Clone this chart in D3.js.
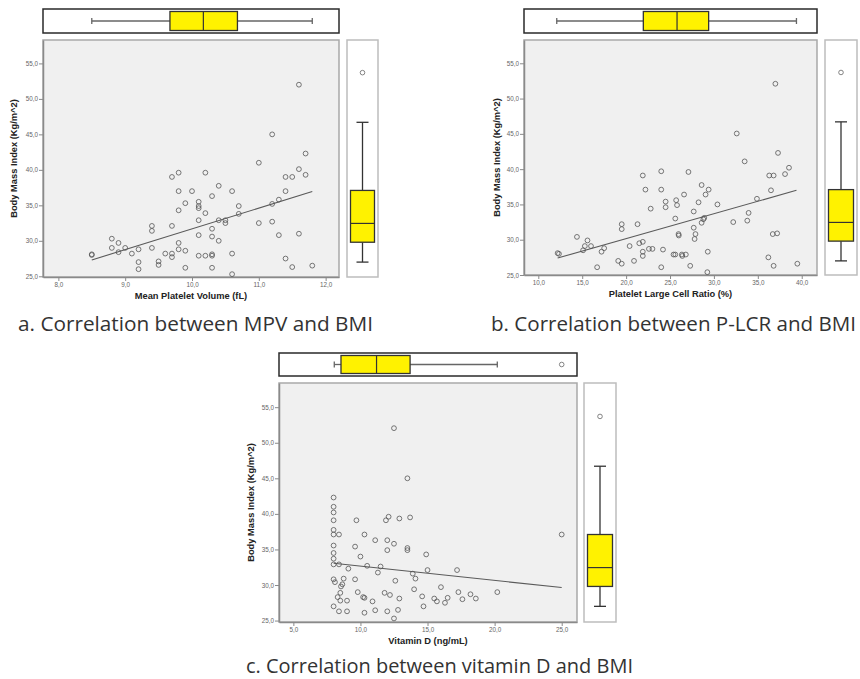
<!DOCTYPE html>
<html>
<head>
<meta charset="utf-8">
<script src="https://cdn.jsdelivr.net/npm/d3@7"></script>
<style>
body{margin:0;background:#fff;}
</style>
</head>
<body>
<svg id="fig" width="860" height="679"></svg>
<script>
////  data
var bmiTicks = [25, 30, 35, 40, 45, 50, 55];
var mpvTicks = [8, 9, 10, 11, 12];
var plcrTicks = [10, 15, 20, 25, 30, 35, 40];
var vitdTicks = [5, 10, 15, 20, 25];

// [x, BMI]
var mpvBmi = [
	[8.5,28.0],[8.5,28.1],[8.8,30.3],[8.8,29.0],[8.9,29.7],[8.9,28.4],[9.0,29.0],[9.1,28.2],[9.2,28.8],[9.2,27.0],[9.2,26.0],
	[9.4,32.1],[9.4,31.4],[9.4,29.0],[9.5,27.1],[9.5,26.6],[9.6,28.2],
	[9.7,32.1],[9.7,28.2],[9.7,27.7],[9.7,39.0],[9.8,39.6],[9.8,37.0],[9.8,34.3],[9.8,29.7],[9.8,28.8],
	[9.9,35.3],[9.9,28.6],[9.9,26.2],[10.0,37.0],
	[10.1,35.5],[10.1,34.9],[10.1,34.6],[10.1,32.9],[10.1,30.8],[10.1,27.9],
	[10.2,39.6],[10.2,33.9],[10.2,27.9],
	[10.3,36.3],[10.3,31.7],[10.3,30.6],[10.3,27.9],[10.3,28.1],[10.3,26.2],
	[10.4,37.75],[10.4,32.9],[10.4,30.0],[10.5,32.9],[10.5,32.5],
	[10.6,37.0],[10.6,28.2],[10.6,25.3],[10.7,34.9],[10.7,33.8],
	[11.0,41.0],[11.0,32.5],[11.2,45.0],[11.2,35.2],[11.2,32.7],[11.3,35.8],[11.3,30.8],
	[11.4,39.0],[11.4,37.0],[11.4,27.5],[11.5,39.0],[11.5,26.3],
	[11.6,52.0],[11.6,40.1],[11.6,31.0],[11.7,42.3],[11.7,39.3],[11.8,26.5]
];
var plcrBmi = [
	[12.2,28.1],[12.35,28.0],[14.4,30.4],[15.1,28.5],[15.3,29.1],[15.6,29.9],[16.0,29.1],[16.7,26.1],[17.2,28.3],[17.5,28.8],
	[19.1,27.0],[19.5,32.2],[19.5,31.5],[19.5,26.6],[20.4,29.1],[20.9,27.0],[21.3,32.2],[21.5,29.5],[21.9,39.1],[21.9,29.7],
	[21.9,28.3],[21.9,27.7],[22.2,37.1],[22.6,28.7],[22.8,34.4],[23.0,28.7],
	[24.0,39.7],[24.0,37.1],[24.0,26.1],[24.2,28.6],[24.5,35.4],[24.5,34.6],[25.4,27.9],[25.6,27.9],[25.6,33.0],[25.7,35.6],
	[25.8,34.9],[25.97,30.8],[26.0,30.6],[26.35,27.9],[26.4,27.7],[26.6,36.4],[26.8,27.9],[27.1,39.6],[27.3,26.3],[27.7,34.0],
	[27.7,31.7],[27.8,30.1],[27.9,30.8],[28.25,35.3],[28.6,37.75],[28.6,32.4],[28.8,32.9],[28.9,33.1],[29.05,36.4],[29.4,37.1],
	[29.3,28.3],[29.25,25.4],
	[30.4,35.0],[32.2,32.5],[32.6,45.05],[33.5,41.1],[33.8,32.7],[33.95,33.8],[34.9,35.8],[36.2,27.5],[36.3,39.1],[36.5,37.0],
	[36.8,39.1],[36.7,30.8],[36.8,26.3],[37.0,52.1],[37.2,30.9],[37.3,42.3],[38.1,39.3],[38.55,40.2],[39.5,26.6]
];
var vitdBmi = [
	[8.0,42.3],[8.0,41.0],[8.0,40.2],[8.0,39.1],[8.0,37.75],[8.0,37.1],[8.0,35.55],[8.0,34.5],[8.0,33.7],[8.0,32.9],[8.0,30.8],[8.0,27.0],
	[8.1,30.4],[8.4,37.1],[8.4,32.9],[8.3,28.3],[8.5,28.9],[8.5,27.8],[8.4,26.3],[8.55,29.8],[8.65,30.1],[8.75,30.9],[9.0,27.8],[9.0,26.3],[9.1,32.3],
	[9.6,35.4],[9.6,30.8],[9.7,39.1],[9.8,29.0],[10.0,34.0],[10.2,28.3],[10.3,28.2],[10.3,37.1],[10.3,26.1],[10.5,32.7],[10.9,27.7],
	[11.1,36.3],[11.1,26.45],[11.3,31.75],[11.5,32.6],[11.8,28.9],[11.9,39.1],[12.0,34.9],[12.0,36.3],[12.1,39.6],[12.2,28.6],[12.0,26.3],
	[12.5,52.05],[12.5,35.8],[12.6,30.6],[12.5,25.3],[12.8,26.5],[12.9,39.35],[12.9,28.1],
	[13.5,45.0],[13.5,35.2],[13.5,34.9],[13.7,39.5],[13.9,31.6],[14.1,30.9],[14.0,29.4],[14.6,28.4],[14.7,27.0],[14.9,34.3],[15.0,32.1],
	[15.5,28.1],[15.7,27.7],[16.0,29.7],[16.3,27.5],[16.5,28.2],[17.2,32.1],[17.3,29.0],[17.6,28.0],[18.2,28.7],[18.6,28.1],[20.2,29.0],[25.0,37.1]
];

// fit lines (two end points)
var mpvFit = [[8.5,27.3],[11.8,36.95]];
var plcrFit = [[12.2,27.4],[39.4,37.0]];
var vitdFit = [[8.0,33.06],[25.0,29.64]];

// box plots: min, q1, median, q3, max
var mpvBox = [8.5, 9.67, 10.17, 10.68, 11.8];
var plcrBox = [12.1, 21.96, 25.8, 29.4, 39.4];
var vitdBox = [8.05, 8.55, 11.2, 13.7, 20.2];
var vitdOutliers = [25.0];
var bmiBox = [27.0, 29.8, 32.45, 37.1, 46.7];
var bmiOutliers = [53.7];

var captions = ["a. Correlation between MPV and BMI", "b. Correlation between P-LCR and BMI", "c. Correlation between vitamin D and BMI"];
var xTitles = ["Mean Platelet Volume (fL)", "Platelet Large Cell Ratio (%)", "Vitamin D (ng/mL)"];
var yTitle = "Body Mass Index (Kg/m^2)";

////  layout
var Config = {
	colors: {
		plotBg: "#f0f0f0",
		plotBorder: "#a9a9a9",
		axis: "#8a8a8a",
		tickText: "#666",
		point: "#555",
		fit: "#5a5a5a",
		box: "#fff200",
		caption: "#333"
	}
};

var svg = d3.select("#fig");
var locale = d3.formatLocale({decimal: ",", thousands: ".", grouping: [3], currency: ["", ""]});
var fmt = locale.format(".1f");

var panels = [
	{ points: mpvBmi, fit: mpvFit, box: mpvBox, outliers: [], ticks: mpvTicks, xDomain: [7.77, 12.2], yDomain: [24.9, 58.3],
	  left: 43, right: 339, top: 40, bottom: 277, topBox: [9, 33], rightBox: [347, 378], yTitleX: 14, caption: [18, 331, 355], xTitle: xTitles[0], cap: captions[0] },
	{ points: plcrBmi, fit: plcrFit, box: plcrBox, outliers: [], ticks: plcrTicks, xDomain: [8.37, 41.74], yDomain: [25.0, 58.3],
	  left: 524, right: 817, top: 40, bottom: 275, topBox: [9, 33], rightBox: [825, 857], yTitleX: 497, caption: [491, 331, 365], xTitle: xTitles[1], cap: captions[1] },
	{ points: vitdBmi, fit: vitdFit, box: vitdBox, outliers: vitdOutliers, ticks: vitdTicks, xDomain: [3.93, 26.14], yDomain: [24.8, 58.4],
	  left: 279, right: 577, top: 383, bottom: 622, topBox: [353, 376], rightBox: [584, 616], yTitleX: 251, caption: [246, 673, 387], xTitle: xTitles[2], cap: captions[2] }
];

function drawPanel(p){
	var g = svg.append("g");
	var x = d3.scaleLinear().domain(p.xDomain).range([p.left, p.right]);
	var y = d3.scaleLinear().domain(p.yDomain).range([p.bottom, p.top]);

	// scatter area
	g.append("rect")
		.attr("x", p.left).attr("y", p.top)
		.attr("width", p.right - p.left).attr("height", p.bottom - p.top)
		.attr("fill", Config.colors.plotBg)
		.attr("stroke", Config.colors.plotBorder).attr("stroke-width", 1.5);

	var ya = g.append("g").attr("transform", "translate(" + p.left + ",0)")
		.call(d3.axisLeft(y).tickValues(bmiTicks).tickFormat(fmt).tickSize(4).tickSizeOuter(0).tickPadding(1));
	var xa = g.append("g").attr("transform", "translate(0," + p.bottom + ")")
		.call(d3.axisBottom(x).tickValues(p.ticks).tickFormat(fmt).tickSize(4).tickSizeOuter(0).tickPadding(2));
	[ya, xa].forEach(function(a){
		a.select(".domain").attr("stroke", Config.colors.axis).attr("stroke-width", 1.5);
		a.selectAll(".tick line").attr("stroke", Config.colors.axis);
		a.selectAll(".tick text").attr("fill", Config.colors.tickText)
			.style("font-family", "'Liberation Sans', Arial, sans-serif").style("font-size", "6.3px");
	});

	g.append("line")
		.attr("x1", x(p.fit[0][0])).attr("y1", y(p.fit[0][1]))
		.attr("x2", x(p.fit[1][0])).attr("y2", y(p.fit[1][1]))
		.attr("stroke", Config.colors.fit).attr("stroke-width", 1.1);

	g.selectAll("circle.pt").data(p.points).enter().append("circle")
		.attr("class", "pt")
		.attr("cx", function(d){ return x(d[0]); })
		.attr("cy", function(d){ return y(d[1]); })
		.attr("r", 2.4)
		.attr("fill", "none")
		.attr("stroke", Config.colors.point).attr("stroke-width", 0.8);

	// axis titles
	g.append("text")
		.attr("x", (p.left + p.right) / 2).attr("y", p.bottom + 22)
		.attr("text-anchor", "middle")
		.style("font-family", "'Liberation Sans', Arial, sans-serif").style("font-size", "9.3px").style("font-weight", "bold")
		.attr("fill", "#222").text(p.xTitle);
	g.append("text")
		.attr("transform", "translate(" + p.yTitleX + "," + (p.top + p.bottom) / 2 + ") rotate(-90)")
		.attr("text-anchor", "middle").attr("dy", "0.35em")
		.style("font-family", "'Liberation Sans', Arial, sans-serif").style("font-size", "9.3px").style("font-weight", "bold")
		.attr("fill", "#222").text(yTitle);

	// horizontal box plot on top
	var t0 = p.topBox[0], t1 = p.topBox[1], tm = (t0 + t1) / 2;
	g.append("rect").attr("x", p.left).attr("y", t0).attr("width", p.right - p.left).attr("height", t1 - t0)
		.attr("fill", "#fff").attr("stroke", "#2a2a2a").attr("stroke-width", 1.5);
	var b = p.box;
	g.append("line").attr("x1", x(b[0])).attr("x2", x(b[1])).attr("y1", tm).attr("y2", tm).attr("stroke", "#666").attr("stroke-width", 1.3);
	g.append("line").attr("x1", x(b[3])).attr("x2", x(b[4])).attr("y1", tm).attr("y2", tm).attr("stroke", "#666").attr("stroke-width", 1.3);
	[b[0], b[4]].forEach(function(v){
		g.append("line").attr("x1", x(v)).attr("x2", x(v)).attr("y1", tm - 3).attr("y2", tm + 3).attr("stroke", "#666").attr("stroke-width", 1.3);
	});
	g.append("rect").attr("x", x(b[1])).attr("y", t0 + 2.5).attr("width", x(b[3]) - x(b[1])).attr("height", t1 - t0 - 5)
		.attr("fill", Config.colors.box).attr("stroke", "#333").attr("stroke-width", 1.3);
	g.append("line").attr("x1", x(b[2])).attr("x2", x(b[2])).attr("y1", t0 + 2.5).attr("y2", t1 - 2.5).attr("stroke", "#333").attr("stroke-width", 1.2);
	g.selectAll("circle.ox").data(p.outliers).enter().append("circle").attr("class", "ox")
		.attr("cx", function(d){ return x(d); }).attr("cy", tm).attr("r", 2.3)
		.attr("fill", "none").attr("stroke", "#666").attr("stroke-width", 0.8);

	// vertical box plot on the right (BMI)
	var r0 = p.rightBox[0], r1 = p.rightBox[1], rm = (r0 + r1) / 2;
	g.append("rect").attr("x", r0).attr("y", p.top).attr("width", r1 - r0).attr("height", p.bottom - p.top)
		.attr("fill", "#fff").attr("stroke", "#bdbdbd").attr("stroke-width", 1.5);
	var q = bmiBox;
	g.append("line").attr("x1", rm).attr("x2", rm).attr("y1", y(q[0])).attr("y2", y(q[1])).attr("stroke", "#333").attr("stroke-width", 1.3);
	g.append("line").attr("x1", rm).attr("x2", rm).attr("y1", y(q[3])).attr("y2", y(q[4])).attr("stroke", "#333").attr("stroke-width", 1.3);
	[q[0], q[4]].forEach(function(v){
		g.append("line").attr("x1", rm - 6).attr("x2", rm + 6).attr("y1", y(v)).attr("y2", y(v)).attr("stroke", "#333").attr("stroke-width", 1.3);
	});
	g.append("rect").attr("x", r0 + 3.5).attr("y", y(q[3])).attr("width", r1 - r0 - 7).attr("height", y(q[1]) - y(q[3]))
		.attr("fill", Config.colors.box).attr("stroke", "#333").attr("stroke-width", 1.3);
	g.append("line").attr("x1", r0 + 3.5).attr("x2", r1 - 3.5).attr("y1", y(q[2])).attr("y2", y(q[2])).attr("stroke", "#333").attr("stroke-width", 1.2);
	g.selectAll("circle.oy").data(bmiOutliers).enter().append("circle").attr("class", "oy")
		.attr("cx", rm).attr("cy", function(d){ return y(d); }).attr("r", 2.3)
		.attr("fill", "none").attr("stroke", "#666").attr("stroke-width", 0.8);

	// caption
	svg.append("text")
		.attr("x", p.caption[0]).attr("y", p.caption[1])
		.attr("textLength", p.caption[2]).attr("lengthAdjust", "spacingAndGlyphs")
		.style("font-family", "'Open Sans', 'Noto Sans', sans-serif").style("font-size", "20.5px")
		.attr("fill", Config.colors.caption).text(p.cap);
}

panels.forEach(drawPanel);
</script>
</body>
</html>
